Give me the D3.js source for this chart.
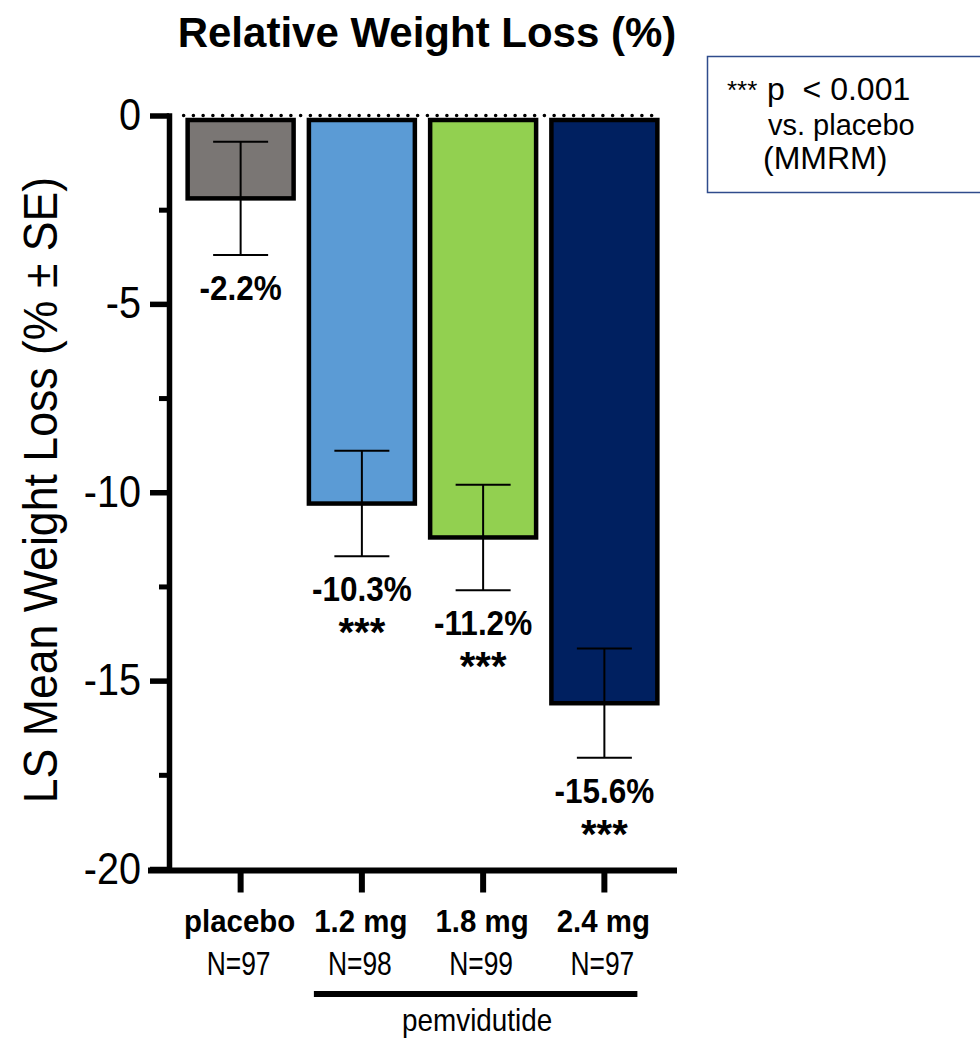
<!DOCTYPE html>
<html>
<head>
<meta charset="utf-8">
<script src="https://cdn.jsdelivr.net/npm/d3@7"></script>
<style>
  html, body { margin: 0; padding: 0; background: #fff; }
  svg { display: block; }
  text { font-family: "Liberation Sans", Arial, Helvetica, sans-serif; fill: #000; }
</style>
</head>
<body>
<svg id="chart" width="980" height="1038"></svg>
<script>
// ---- data ----
const categories = ["placebo", "1.2 mg", "1.8 mg", "2.4 mg"];
const nLabels = ["N=97", "N=98", "N=99", "N=97"];
const means = [-2.2, -10.3, -11.2, -15.6];
const errors = [1.5, 1.4, 1.4, 1.45];
const sigMarks = ["", "***", "***", "***"];
const valueLabels = ["-2.2%", "-10.3%", "-11.2%", "-15.6%"];
const yTicks = [0, -5, -10, -15, -20];
const yMinorTicks = [-2.5, -7.5, -12.5, -17.5];
const groupLabel = "pemvidutide";
const groupMembers = ["1.2 mg", "1.8 mg", "2.4 mg"];
const title = "Relative Weight Loss (%)";
const yTitle = "LS Mean Weight Loss (% \u00B1 SE)";
const legendStars = "***";
const legendLines = ["p  < 0.001", "vs. placebo", "(MMRM)"];

// ---- styles ----
const barColors = ["#7a7674", "#5b9bd5", "#92d050", "#002060"];

const svg = d3.select("#chart");

const y = d3.scaleLinear().domain([0, -20]).range([115.5, 869]);
const x = d3.scaleBand().domain(categories).range([180, 665])
  .paddingInner(0.126).paddingOuter(0.063);

const data = categories.map((c, i) => ({
  cat: c, n: nLabels[i], mean: means[i], se: errors[i],
  sig: sigMarks[i], label: valueLabels[i], color: barColors[i]
}));

// Title
svg.append("text")
  .attr("x", 427).attr("y", 47)
  .attr("text-anchor", "middle")
  .attr("font-size", 42).attr("font-weight", "bold")
  .text(title);

// Y axis title
svg.append("text")
  .attr("transform", "translate(57,490) rotate(-90) scale(0.93,1)")
  .attr("text-anchor", "middle")
  .attr("font-size", 48)
  .text(yTitle);

// Bars
svg.append("g").selectAll("rect")
  .data(data).enter().append("rect")
  .attr("x", d => x(d.cat))
  .attr("width", x.bandwidth())
  .attr("y", y(0) + 4.5)
  .attr("height", d => y(d.mean) - y(0) - 4.5)
  .attr("fill", d => d.color)
  .attr("stroke", "#000")
  .attr("stroke-width", 4.5);

// Dotted zero line
svg.append("line")
  .attr("x1", x(categories[0]) - 4).attr("x2", x(categories[3]) + x.bandwidth() + 4)
  .attr("y1", y(0)).attr("y2", y(0))
  .attr("stroke", "#000").attr("stroke-width", 3.6)
  .attr("stroke-linecap", "round")
  .attr("stroke-dasharray", "0 9.75");

// Error bars
const eb = svg.append("g").selectAll("g").data(data).enter().append("g")
  .attr("transform", d => `translate(${x(d.cat) + x.bandwidth() / 2},0)`);
eb.append("line")
  .attr("x1", 0).attr("x2", 0)
  .attr("y1", d => y(d.mean + d.se)).attr("y2", d => y(d.mean - d.se))
  .attr("stroke", "#000").attr("stroke-width", 2);
eb.append("line")
  .attr("x1", -27.5).attr("x2", 27.5)
  .attr("y1", d => y(d.mean + d.se)).attr("y2", d => y(d.mean + d.se))
  .attr("stroke", "#000").attr("stroke-width", 2);
eb.append("line")
  .attr("x1", -27.5).attr("x2", 27.5)
  .attr("y1", d => y(d.mean - d.se)).attr("y2", d => y(d.mean - d.se))
  .attr("stroke", "#000").attr("stroke-width", 2);

// Value labels
eb.append("text")
  .attr("transform", d => `translate(0,${y(d.mean - d.se) + 45}) scale(0.9,1)`)
  .attr("text-anchor", "middle")
  .attr("font-size", 35).attr("font-weight", "bold")
  .text(d => d.label);
eb.append("text")
  .attr("transform", d => `translate(0,${y(d.mean - d.se) + 90})`)
  .attr("text-anchor", "middle")
  .attr("font-size", 40).attr("font-weight", "bold")
  .text(d => d.sig);

// Y axis
const yAxis = svg.append("g")
  .attr("transform", "translate(169,0)")
  .call(d3.axisLeft(y).tickValues(yTicks).tickSize(19).tickSizeOuter(0).tickPadding(10)
    .tickFormat(d => d === 0 ? "0" : String(d)));
yAxis.select(".domain").attr("stroke-width", 5.5).attr("stroke-linecap", "square");
yAxis.selectAll(".tick line").attr("stroke-width", 5.5);
yAxis.selectAll(".tick text")
  .attr("x", 0)
  .attr("transform", "translate(-28,0) scale(0.9,1)")
  .attr("font-size", 44)
  .attr("font-family", "'Liberation Sans', Arial, sans-serif")
  .attr("fill", "#000");

const yMinor = svg.append("g")
  .attr("transform", "translate(169,0)")
  .call(d3.axisLeft(y).tickValues(yMinorTicks).tickSize(10).tickSizeOuter(0).tickFormat(""));
yMinor.select(".domain").remove();
yMinor.selectAll(".tick line").attr("stroke-width", 5);

// X axis
const xAxis = svg.append("g")
  .attr("transform", `translate(0,${y(-20) + 1.5})`)
  .call(d3.axisBottom(x).tickSize(22).tickSizeOuter(0).tickFormat(""));
xAxis.select(".domain").remove();
xAxis.selectAll(".tick line").attr("stroke-width", 6);
svg.append("line")
  .attr("x1", 148).attr("x2", 677)
  .attr("y1", y(-20) + 1.5).attr("y2", y(-20) + 1.5)
  .attr("stroke", "#000").attr("stroke-width", 6);

// Category labels
const xl = svg.append("g").selectAll("g").data(data).enter().append("g")
  .attr("transform", d => `translate(${x(d.cat) + x.bandwidth() / 2},0)`);
xl.append("text")
  .attr("transform", "translate(-1,932) scale(0.92,1)")
  .attr("text-anchor", "middle")
  .attr("font-size", 32).attr("font-weight", "bold")
  .text(d => d.cat);
xl.append("text")
  .attr("transform", "translate(-2,975) scale(0.8,1)")
  .attr("text-anchor", "middle")
  .attr("font-size", 33)
  .text(d => d.n);

// Group bracket
const gx1 = x(groupMembers[0]) + 5;
const gx2 = x(groupMembers[groupMembers.length - 1]) + 86;
svg.append("line")
  .attr("x1", gx1).attr("x2", gx2)
  .attr("y1", 994).attr("y2", 994)
  .attr("stroke", "#000").attr("stroke-width", 6);
svg.append("text")
  .attr("transform", `translate(${(x(groupMembers[0]) + x(groupMembers[2]) + x.bandwidth()) / 2 - 6},1031) scale(0.87,1)`)
  .attr("text-anchor", "middle")
  .attr("font-size", 32)
  .text(groupLabel);

// Legend box
svg.append("rect")
  .attr("x", 707.5).attr("y", 56.5)
  .attr("width", 290).attr("height", 136)
  .attr("fill", "none")
  .attr("stroke", "#2f4b8c").attr("stroke-width", 1.5);
svg.append("text")
  .attr("x", 727).attr("y", 99)
  .attr("font-size", 26)
  .text(legendStars);
const lx = [767, 768, 763];
const ly = [100, 135, 169];
const lf = [32, 29, 32];
svg.append("g").selectAll("text").data(legendLines).enter().append("text")
  .attr("x", (d, i) => lx[i]).attr("y", (d, i) => ly[i])
  .attr("font-size", (d, i) => lf[i])
  .style("white-space", "pre")
  .text(d => d);
</script>
</body>
</html>
